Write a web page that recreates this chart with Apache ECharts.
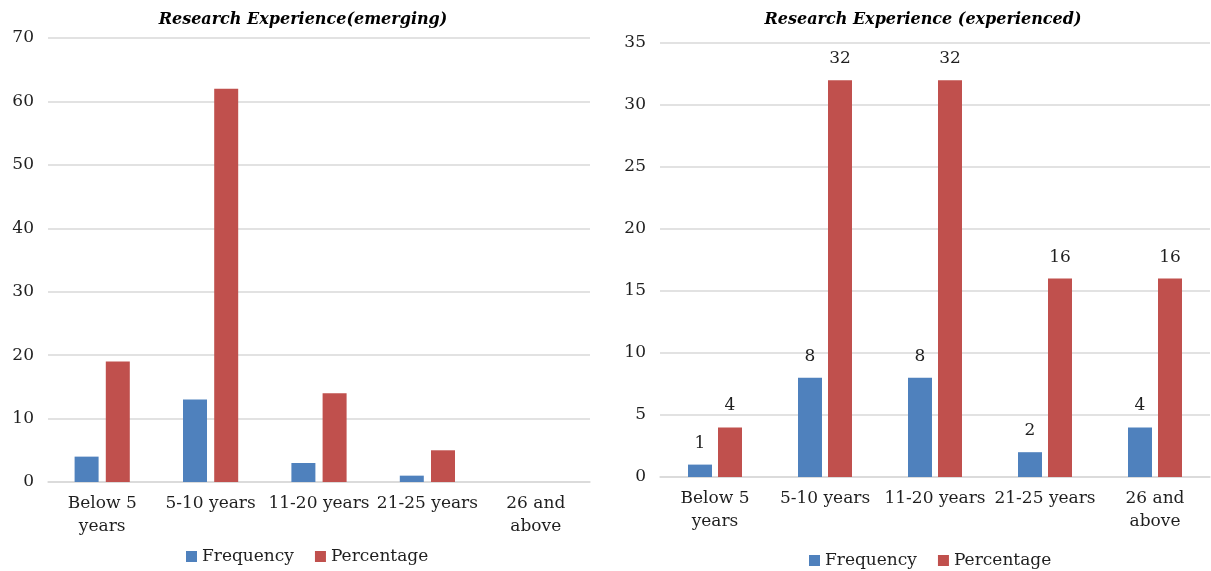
<!DOCTYPE html>
<html><head><meta charset="utf-8">
<script src="https://cdn.jsdelivr.net/npm/echarts@6/dist/echarts.min.js"></script>
<style>html,body{margin:0;padding:0;background:#fff}#c{width:1211px;height:571px}</style>
</head><body><div id="c"></div>
<script>
const categories = ['Below 5\nyears', '5-10 years', '11-20 years', '21-25 years', '26 and\nabove'];
const emergingFrequency = [4, 13, 3, 1, 0];
const emergingPercentage = [19, 62, 14, 5, 0];
const experiencedFrequency = [1, 8, 8, 2, 4];
const experiencedPercentage = [4, 32, 32, 16, 16];
const titles = ['Research Experience(emerging)', 'Research Experience (experienced)'];

const FONT = 'DejaVu Serif';
const TXT = '#1f1f1f';
const BLUE = '#4F81BD', RED = '#C0504D';

function xAxis(i) {
  return {
    type: 'category', gridIndex: i, data: categories,
    axisLine: {lineStyle: {color: '#d9d9d9', width: 1.5}},
    axisTick: {show: false},
    axisLabel: {interval: 0, color: TXT, fontFamily: FONT, fontSize: 17, lineHeight: 23, margin: 10}
  };
}
function yAxis(i, max, interval) {
  return {
    type: 'value', gridIndex: i, min: 0, max: max, interval: interval,
    axisLine: {show: false}, axisTick: {show: false},
    splitLine: {lineStyle: {color: '#d9d9d9', width: 1.5}},
    axisLabel: {color: TXT, fontFamily: FONT, fontSize: 17, margin: 14}
  };
}
const labelOpt = {show: true, position: 'top', color: TXT, fontFamily: FONT, fontSize: 17, distance: 13};

const chart = echarts.init(document.getElementById('c'));
chart.setOption({
  animation: false,
  title: [
    {text: titles[0], left: 298, top: 7, textAlign: 'center',
     textStyle: {fontFamily: FONT, fontStyle: 'italic', fontWeight: 'bold', fontSize: 16, color: '#000'}},
    {text: titles[1], left: 918, top: 7, textAlign: 'center',
     textStyle: {fontFamily: FONT, fontStyle: 'italic', fontWeight: 'bold', fontSize: 16, color: '#000'}}
  ],
  legend: [
    {seriesIndex: [0, 1], data: ['Frequency', 'Percentage'], left: 181, top: 543, itemWidth: 11, itemHeight: 11, itemGap: 21,
     textStyle: {fontFamily: FONT, fontSize: 17, color: TXT}, icon: 'rect'},
    {data: ['Frequency', 'Percentage'], left: 804, top: 547, itemWidth: 11, itemHeight: 11, itemGap: 21,
     textStyle: {fontFamily: FONT, fontSize: 17, color: TXT}, icon: 'rect'}
  ],
  grid: [
    {left: 48, right: 621, top: 38, bottom: 89},
    {left: 660, right: 1, top: 43, bottom: 94}
  ],
  xAxis: [xAxis(0), xAxis(1)],
  yAxis: [yAxis(0, 70, 10), yAxis(1, 35, 5)],
  series: [
    {name: 'Frequency', type: 'bar', xAxisIndex: 0, yAxisIndex: 0, data: emergingFrequency, itemStyle: {color: BLUE}, barWidth: 24, barGap: '30%'},
    {name: 'Percentage', type: 'bar', xAxisIndex: 0, yAxisIndex: 0, data: emergingPercentage, itemStyle: {color: RED}, barWidth: 24, barGap: '30%'},
    {name: 'Frequency', type: 'bar', xAxisIndex: 1, yAxisIndex: 1, data: experiencedFrequency, itemStyle: {color: BLUE}, barWidth: 24, barGap: '25%', label: labelOpt},
    {name: 'Percentage', type: 'bar', xAxisIndex: 1, yAxisIndex: 1, data: experiencedPercentage, itemStyle: {color: RED}, barWidth: 24, barGap: '25%', label: labelOpt}
  ]
});
</script></body></html>
